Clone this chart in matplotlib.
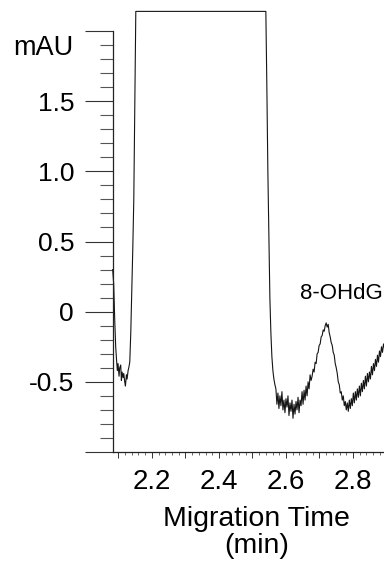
import matplotlib
matplotlib.use('Agg')
import matplotlib.pyplot as plt
from matplotlib.ticker import FixedLocator, MultipleLocator, FuncFormatter

plt.rcParams['font.family'] = ['Liberation Sans', 'DejaVu Sans']

# electropherogram trace (migration time in min, absorbance in mAU)
# left edge: tail of the first peak
t_left = [2.083, 2.086, 2.089, 2.092, 2.095, 2.097, 2.099, 2.102, 2.104,
          2.107, 2.109, 2.111, 2.114, 2.116, 2.119, 2.121, 2.124, 2.126,
          2.129, 2.131, 2.134, 2.137, 2.140, 2.143, 2.146, 2.149, 2.152]
v_left = [0.30, 0.20, -0.05, -0.25, -0.36, -0.42, -0.37, -0.46, -0.40,
          -0.38, -0.49, -0.43, -0.47, -0.44, -0.50, -0.53, -0.45, -0.48,
          -0.42, -0.40, -0.36, -0.15, 0.15, 0.45, 0.80, 1.50, 2.14]

# off-scale main peak (detector saturated)
t_main = [2.200, 2.300, 2.400, 2.500, 2.540]
v_main = [2.14, 2.14, 2.14, 2.14, 2.14]

# descent + baseline noise before 8-OHdG
t_base = [2.543, 2.546, 2.549, 2.552, 2.555, 2.558, 2.561, 2.564, 2.567,
          2.570, 2.573, 2.576, 2.579, 2.582, 2.585, 2.588, 2.591, 2.594,
          2.597, 2.600, 2.603, 2.606, 2.609, 2.612, 2.615, 2.618, 2.621,
          2.624, 2.627, 2.630, 2.633, 2.636, 2.639, 2.642, 2.645, 2.648,
          2.651, 2.654, 2.657, 2.660, 2.663, 2.666, 2.669, 2.672, 2.675]
v_base = [1.60, 1.00, 0.55, 0.10, -0.15, -0.32, -0.42, -0.48, -0.52,
          -0.55, -0.66, -0.58, -0.69, -0.60, -0.67, -0.57, -0.70, -0.63,
          -0.72, -0.62, -0.68, -0.60, -0.74, -0.65, -0.71, -0.63, -0.76,
          -0.66, -0.73, -0.64, -0.70, -0.61, -0.72, -0.63, -0.67, -0.57,
          -0.66, -0.56, -0.63, -0.53, -0.60, -0.50, -0.55, -0.45, -0.49]

# 8-OHdG peak and the baseline after it
t_peak = [2.678, 2.681, 2.684, 2.687, 2.690, 2.693, 2.696, 2.699, 2.702,
          2.705, 2.708, 2.711, 2.714, 2.717, 2.720, 2.723, 2.726, 2.729,
          2.732, 2.735, 2.738, 2.741, 2.744, 2.747, 2.750, 2.753, 2.756,
          2.759, 2.762, 2.765, 2.768, 2.771, 2.774, 2.777, 2.780, 2.783,
          2.786, 2.789, 2.792, 2.795, 2.798, 2.801, 2.804, 2.807, 2.810,
          2.813, 2.816, 2.819, 2.822, 2.825, 2.828, 2.831, 2.834, 2.837,
          2.840, 2.843, 2.846, 2.849, 2.852, 2.855, 2.858, 2.861, 2.864,
          2.867, 2.870, 2.873, 2.876, 2.879, 2.882, 2.885, 2.888, 2.891,
          2.894]
v_peak = [-0.46, -0.41, -0.43, -0.36, -0.37, -0.30, -0.29, -0.24, -0.23,
          -0.18, -0.17, -0.13, -0.14, -0.10, -0.08, -0.11, -0.09, -0.15,
          -0.18, -0.22, -0.24, -0.29, -0.31, -0.37, -0.40, -0.44, -0.50,
          -0.52, -0.58, -0.57, -0.63, -0.60, -0.67, -0.64, -0.70, -0.65,
          -0.71, -0.63, -0.69, -0.62, -0.67, -0.58, -0.65, -0.57, -0.63,
          -0.55, -0.61, -0.53, -0.60, -0.51, -0.57, -0.49, -0.55, -0.46,
          -0.53, -0.44, -0.50, -0.43, -0.48, -0.39, -0.45, -0.37, -0.42,
          -0.34, -0.39, -0.31, -0.36, -0.28, -0.32, -0.25, -0.29, -0.23,
          -0.26]

mig_time = t_left + t_main + t_base + t_peak
absorbance = v_left + v_main + v_base + v_peak

y_major = [-1.0, -0.5, 0.0, 0.5, 1.0, 1.5, 2.0]
y_labels = ['', '-0.5', '0', '0.5', '1.0', '1.5', '']
x_labelled = [2.2, 2.4, 2.6, 2.8]

fig = plt.figure(figsize=(3.84, 5.61), dpi=100)
ax = fig.add_axes([0.2943, 0.1943, 0.7057, 0.7904])

ax.plot(mig_time, absorbance, color='#151515', lw=0.8, clip_on=False)

ax.set_xlim(2.084, 2.8925)
ax.set_ylim(-1.0, 2.16)

for side in ['top', 'right']:
    ax.spines[side].set_visible(False)
ax.spines['left'].set_bounds(-1.0, 2.0)
for side in ['left', 'bottom']:
    ax.spines[side].set_linewidth(0.9)
    ax.spines[side].set_color('#222222')

# y axis: long major ticks every 0.5, minor every 0.1
ax.yaxis.set_major_locator(FixedLocator(y_major))
ax.set_yticklabels(y_labels)
ax.yaxis.set_minor_locator(FixedLocator([k / 10 for k in range(-10, 21)]))
ax.tick_params(axis='y', which='major', length=20, width=0.8, pad=8,
               labelsize=19, color='#333333')
ax.tick_params(axis='y', which='minor', length=9.5, width=0.8,
               color='#555555')

# x axis: ticks every 0.1 and 0.02, labels every 0.2
def fmt_x(v, pos):
    for lab in x_labelled:
        if abs(v - lab) < 1e-6:
            return '%.1f' % lab
    return ''

ax.xaxis.set_major_locator(MultipleLocator(0.1))
ax.xaxis.set_major_formatter(FuncFormatter(fmt_x))
ax.xaxis.set_minor_locator(MultipleLocator(0.02))
ax.tick_params(axis='x', which='major', length=4, width=0.7, pad=8,
               labelsize=20, color='#333333')
ax.tick_params(axis='x', which='minor', length=2.2, width=0.6,
               color='#555555')

ax.set_xlabel('Migration Time\n(min)', fontsize=20.5, linespacing=1.05)
ax.xaxis.set_label_coords(0.531, -0.122)
ax.xaxis.label.set_va('top')

fig.text(73 / 384, 1 - 48 / 561, 'mAU', fontsize=19.5, ha='right',
         va='center')
# peak label, kept just inside the right edge
ax.text(2.641, 0.13, '8-OHdG', fontsize=16, ha='left', va='center',
        clip_on=False)

fig.savefig('out.png', dpi=100)
